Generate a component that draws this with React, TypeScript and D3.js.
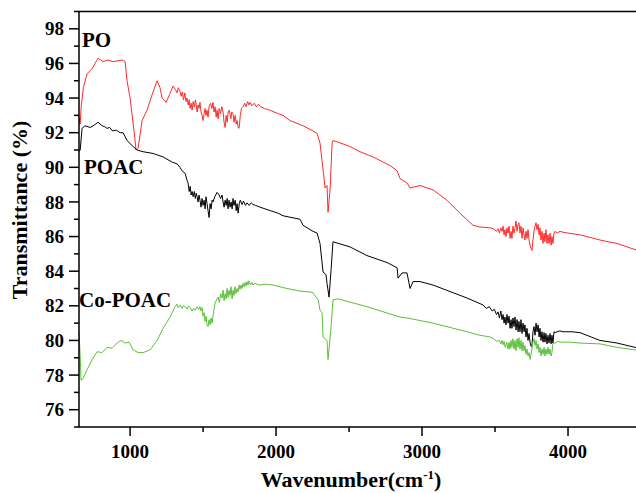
import React from "react";
import * as d3 from "d3";

// [wavenumber (cm-1), transmittance (%)]
const poData: [number, number][] = [
  [650,92.9],[658,92.5],[665,93.5],[680,94.6],[699,95.2],[705,95.4],[740,95.7],[760,96.0],[781,96.3],[800,96.2],[815,96.1],[849,96.2],[884,96.1],[945,96.2],[966,96.1],[979,95.0],[1000,94.0],[1027,92.1],[1041,91.0],[1055,91.1],
  [1082,92.7],[1116,93.3],[1151,94.2],[1185,95.0],[1205,94.6],[1219,94.0],[1247,93.75],[1270,94.2],[1295,94.7],[1310,94.5],[1322,94.3],[1330,94.6],[1342,94.4],[1350,94.1],[1358,94.35],[1366,93.9],[1375,94.3],[1383,93.8],[1390,94.0],[1398,93.6],
  [1405,93.9],[1411,93.4],[1418,93.7],[1425,93.3],[1432,93.8],[1440,93.5],[1448,93.9],[1459,93.2],[1466,93.6],[1472,93.4],[1479,93.75],[1486,93.2],[1493,93.0],[1500,92.7],[1507,93.1],[1514,93.4],[1520,93.0],[1527,93.3],[1534,92.9],[1541,93.5],
  [1552,93.7],[1560,93.4],[1568,93.75],[1575,93.2],[1582,93.5],[1590,92.9],[1596,93.3],[1603,92.8],[1610,93.4],[1620,93.1],[1628,93.5],[1637,93.2],[1644,92.6],[1651,92.3],[1658,93.0],[1665,92.6],[1672,93.2],[1680,93.3],[1690,92.8],[1697,93.2],
  [1705,93.1],[1712,92.6],[1720,93.0],[1727,92.5],[1733,92.7],[1740,92.3],[1747,92.25],[1755,93.0],[1763,93.4],[1774,93.5],[1785,93.7],[1795,93.5],[1805,93.8],[1815,93.6],[1822,93.75],[1835,93.55],[1850,93.7],[1865,93.5],[1880,93.65],[1895,93.5],
  [1920,93.4],[1959,93.3],[2014,93.1],[2048,93.0],[2096,92.7],[2185,92.4],[2253,92.1],[2281,91.95],[2301,91.4],[2322,89.85],[2336,88.8],[2349,88.95],[2356,87.4],[2370,88.7],[2384,91.4],[2390,91.55],[2459,91.35],[2507,91.2],[2575,90.9],[2664,90.6],
  [2781,90.1],[2829,89.8],[2849,89.35],[2897,89.1],[2918,88.8],[2938,88.85],[2986,88.95],[3075,88.7],[3171,88.1],[3260,87.35],[3349,86.65],[3397,86.55],[3466,86.5],[3490,86.45],[3510,86.3],[3521,86.45],[3530,86.2],[3540,86.5],[3548,86.3],[3555,86.6],
  [3562,86.1],[3568,86.4],[3575,86.0],[3582,86.5],[3589,86.2],[3596,86.6],[3603,85.9],[3610,86.3],[3616,85.9],[3623,86.6],[3630,86.2],[3637,86.5],[3644,86.9],[3651,86.3],[3658,86.7],[3664,86.8],[3671,86.2],[3678,86.6],[3685,85.9],[3692,86.5],
  [3699,86.1],[3705,85.8],[3712,86.3],[3719,85.9],[3726,86.4],[3733,85.8],[3740,85.5],[3747,85.3],[3753,85.2],[3760,85.8],[3767,86.3],[3774,86.6],[3781,86.8],[3788,86.4],[3795,86.7],[3802,86.1],[3808,86.5],[3815,85.8],[3822,86.3],[3829,85.6],
  [3836,86.2],[3842,85.7],[3849,86.4],[3856,85.6],[3863,86.1],[3870,85.6],[3877,86.2],[3884,85.5],[3890,86.0],[3897,85.6],[3904,86.2],[3911,86.3],[3925,86.2],[3945,86.3],[3966,86.25],[4000,86.2],[4082,86.1],[4219,85.8],[4336,85.6],[4459,85.25],[4500,85.2]
];

const poacData: [number, number][] = [
  [650,90.9],[658,91.0],[671,92.25],[692,92.4],[726,92.3],[747,92.4],[781,92.6],[808,92.4],[825,92.35],[842,92.25],[860,92.3],[880,92.1],[905,92.15],[932,92.0],[952,92.0],[979,91.55],[1021,91.2],[1048,91.0],[1089,90.9],[1158,90.8],
  [1226,90.6],[1288,90.3],[1322,90.2],[1342,90.0],[1356,89.8],[1377,89.65],[1390,89.25],[1397,89.1],[1405,88.6],[1412,88.9],[1418,88.4],[1425,88.6],[1432,88.3],[1440,88.6],[1447,88.2],[1453,88.5],[1459,88.3],[1466,88.0],[1472,88.4],[1479,88.1],
  [1486,87.7],[1493,88.2],[1500,87.8],[1507,88.1],[1514,87.6],[1520,88.3],[1527,87.9],[1534,87.5],[1541,87.1],[1548,87.9],[1555,87.6],[1562,88.1],[1568,88.0],[1580,88.3],[1596,88.55],[1610,88.4],[1620,88.2],[1630,88.4],[1637,88.0],[1644,87.7],
  [1651,88.1],[1658,87.8],[1665,88.2],[1671,87.6],[1678,88.1],[1685,87.7],[1692,88.0],[1699,87.6],[1705,88.2],[1712,87.8],[1720,88.1],[1727,87.5],[1733,87.9],[1740,87.35],[1748,87.9],[1755,88.1],[1767,87.85],[1777,88.05],[1790,87.8],[1801,87.95],
  [1815,87.8],[1830,87.95],[1842,87.85],[1860,87.8],[1890,87.7],[1959,87.5],[2014,87.35],[2048,87.2],[2164,87.0],[2185,86.65],[2253,86.3],[2281,86.2],[2301,85.6],[2322,83.95],[2342,83.8],[2349,83.3],[2363,82.5],[2377,84.1],[2390,85.7],[2507,85.4],
  [2623,84.9],[2760,84.5],[2829,84.2],[2836,83.6],[2863,83.9],[2897,83.9],[2918,83.0],[2938,83.4],[2986,83.4],[3075,83.2],[3308,82.45],[3418,82.05],[3440,81.85],[3460,81.95],[3480,81.7],[3495,81.8],[3510,81.5],[3521,81.65],[3530,81.3],[3540,81.7],
  [3548,81.2],[3555,81.5],[3562,81.0],[3568,81.35],[3575,80.9],[3582,81.5],[3589,81.0],[3596,81.4],[3603,80.7],[3610,81.2],[3616,80.7],[3623,81.3],[3630,80.8],[3637,81.35],[3644,80.6],[3651,81.2],[3658,80.5],[3664,81.1],[3671,80.5],[3678,81.2],
  [3685,80.4],[3692,81.0],[3699,80.5],[3705,80.9],[3712,80.2],[3719,80.7],[3726,80.0],[3733,80.4],[3740,79.9],[3747,79.65],[3753,79.7],[3760,80.5],[3767,80.8],[3774,80.3],[3781,81.0],[3788,80.5],[3795,80.9],[3802,80.2],[3808,80.7],[3815,80.0],
  [3822,80.5],[3829,79.9],[3836,80.45],[3842,79.9],[3849,80.4],[3856,79.8],[3863,80.3],[3870,79.85],[3877,80.4],[3884,79.8],[3890,80.3],[3897,79.85],[3904,80.5],[3911,80.45],[3925,80.5],[3945,80.55],[3966,80.5],[4027,80.5],[4082,80.45],[4219,80.0],
  [4336,79.85],[4459,79.6],[4500,79.55]
];

const coPoacData: [number, number][] = [
  [650,80.5],[658,79.1],[664,77.7],[678,77.8],[705,78.3],[740,78.9],[774,79.35],[808,79.3],[842,79.6],[877,79.55],[911,79.85],[938,80.0],[966,79.85],[993,79.9],[1021,79.45],[1055,79.3],[1089,79.3],[1137,79.45],[1185,80.0],[1226,80.7],
  [1274,81.35],[1308,81.95],[1320,82.1],[1330,81.9],[1342,82.05],[1355,81.85],[1365,82.0],[1377,81.95],[1390,81.8],[1400,82.0],[1411,81.9],[1425,81.7],[1435,81.85],[1445,81.75],[1460,81.95],[1470,81.8],[1479,81.95],[1486,81.7],[1493,81.9],[1500,81.4],
  [1507,81.6],[1514,81.1],[1520,81.4],[1527,80.9],[1534,80.8],[1541,81.2],[1548,80.9],[1555,81.3],[1562,81.0],[1568,81.4],[1575,81.8],[1582,82.15],[1595,82.4],[1603,82.5],[1612,82.2],[1620,82.7],[1630,82.45],[1637,82.9],[1644,82.3],[1651,82.7],
  [1658,82.4],[1664,83.0],[1671,82.5],[1678,82.9],[1685,82.6],[1692,83.1],[1699,82.4],[1705,82.9],[1712,82.6],[1719,83.1],[1726,82.7],[1733,83.0],[1740,82.8],[1747,83.2],[1753,82.95],[1760,83.2],[1767,83.0],[1774,83.3],[1781,83.1],[1788,83.35],
  [1795,83.15],[1801,83.4],[1808,83.2],[1815,83.45],[1825,83.2],[1835,83.35],[1842,83.2],[1855,83.3],[1870,83.25],[1890,83.2],[1925,83.25],[1979,83.2],[2027,83.1],[2075,83.0],[2164,82.85],[2233,82.8],[2253,82.75],[2288,82.35],[2301,81.75],[2315,81.6],
  [2322,80.2],[2349,80.0],[2356,78.9],[2377,80.8],[2390,82.35],[2425,82.4],[2623,81.95],[2849,81.35],[2897,81.3],[3075,81.0],[3308,80.5],[3397,80.3],[3466,80.2],[3490,80.1],[3510,79.95],[3530,80.0],[3540,79.8],[3548,80.0],[3555,79.75],[3562,79.95],
  [3570,79.6],[3580,79.9],[3589,79.5],[3596,79.9],[3603,79.5],[3610,80.0],[3616,79.6],[3623,80.1],[3630,79.5],[3637,80.0],[3644,79.4],[3651,80.1],[3658,79.6],[3664,80.15],[3671,79.5],[3678,80.0],[3685,79.4],[3692,79.9],[3699,79.4],[3705,79.7],
  [3712,79.2],[3719,79.5],[3726,79.1],[3733,79.3],[3740,78.9],[3747,79.2],[3753,79.5],[3760,79.9],[3767,80.1],[3774,79.7],[3781,80.0],[3788,79.5],[3795,79.8],[3802,79.3],[3808,79.6],[3815,79.1],[3822,79.5],[3829,79.2],[3836,79.6],[3842,79.1],
  [3849,79.5],[3856,79.2],[3863,79.6],[3870,79.2],[3877,79.5],[3884,79.1],[3890,79.3],[3897,79.85],[3911,79.85],[3930,79.95],[3950,79.9],[4014,79.9],[4082,79.85],[4219,79.8],[4336,79.6],[4459,79.45],[4500,79.4]
];

const xTicks = [1000, 2000, 3000, 4000];
const xMinor = [1500, 2500, 3500];
const yTicks = [76, 78, 80, 82, 84, 86, 88, 90, 92, 94, 96, 98];
const yMinor = [75, 77, 79, 81, 83, 85, 87, 89, 91, 93, 95, 97, 99];

const seriesNames = ["PO", "POAC", "Co-POAC"];
const seriesColors = ["#ff2a2a", "#000000", "#5cbf3a"];

const W = 636, H = 493;
const L = 79, R = 641, T = 11.5, B = 427;
const FONT = "'Liberation Serif', 'Times New Roman', serif";

export default function App() {
  const x = d3.scaleLinear().domain([650, 4500]).range([L, R]);
  const y = d3.scaleLinear().domain([75, 99]).range([B, T]);
  const series = [poData, poacData, coPoacData];
  const line = d3.line<[number, number]>().x(d => x(d[0])).y(d => y(d[1]));
  const labelPos = [
    { x: 82, y: 47 },
    { x: 84, y: 174 },
    { x: 79, y: 307 },
  ];
  return (
    <svg width={W} height={H} style={{ position: "absolute", left: 0, top: 0, background: "#fff" }} fontFamily={FONT}>
      <defs>
        <clipPath id="pc"><rect x={L} y={T} width={R - L} height={B - T} /></clipPath>
      </defs>
      <g clipPath="url(#pc)">
        {series.map((s, i) => (
          <path key={i} d={line(s) || ""} fill="none" stroke={seriesColors[i]} strokeWidth={1} strokeLinejoin="round" />
        ))}
      </g>
      <rect x={L} y={T} width={R - L} height={B - T} fill="none" stroke="#000" strokeWidth={1.5} />
      {yTicks.map(v => (
        <g key={"y" + v}>
          <line x1={L - 10} x2={L} y1={y(v)} y2={y(v)} stroke="#000" strokeWidth={1.5} />
          <text x={L - 15} y={y(v)} dy="0.35em" textAnchor="end" fontSize={19} fontWeight="bold">{v}</text>
        </g>
      ))}
      {yMinor.map(v => (
        <line key={"ym" + v} x1={L - 5} x2={L} y1={y(v)} y2={y(v)} stroke="#000" strokeWidth={1.5} />
      ))}
      {xTicks.map(v => (
        <g key={"x" + v}>
          <line x1={x(v)} x2={x(v)} y1={B} y2={B + 9} stroke="#000" strokeWidth={1.5} />
          <text x={x(v)} y={458} textAnchor="middle" fontSize={19} fontWeight="bold">{v}</text>
        </g>
      ))}
      {xMinor.map(v => (
        <line key={"xm" + v} x1={x(v)} x2={x(v)} y1={B} y2={B + 5} stroke="#000" strokeWidth={1.5} />
      ))}
      <text x={351} y={487} textAnchor="middle" fontSize={22} fontWeight="bold">
        Wavenumber(cm<tspan dy={-8} fontSize={13}>-1</tspan><tspan dy={8}>)</tspan>
      </text>
      <text transform="translate(27,210) rotate(-90)" textAnchor="middle" fontSize={22} fontWeight="bold">Transmittance (%)</text>
      {seriesNames.map((n, i) => (
        <text key={n} x={labelPos[i].x} y={labelPos[i].y} fontSize={21} fontWeight="bold">{n}</text>
      ))}
    </svg>
  );
}
